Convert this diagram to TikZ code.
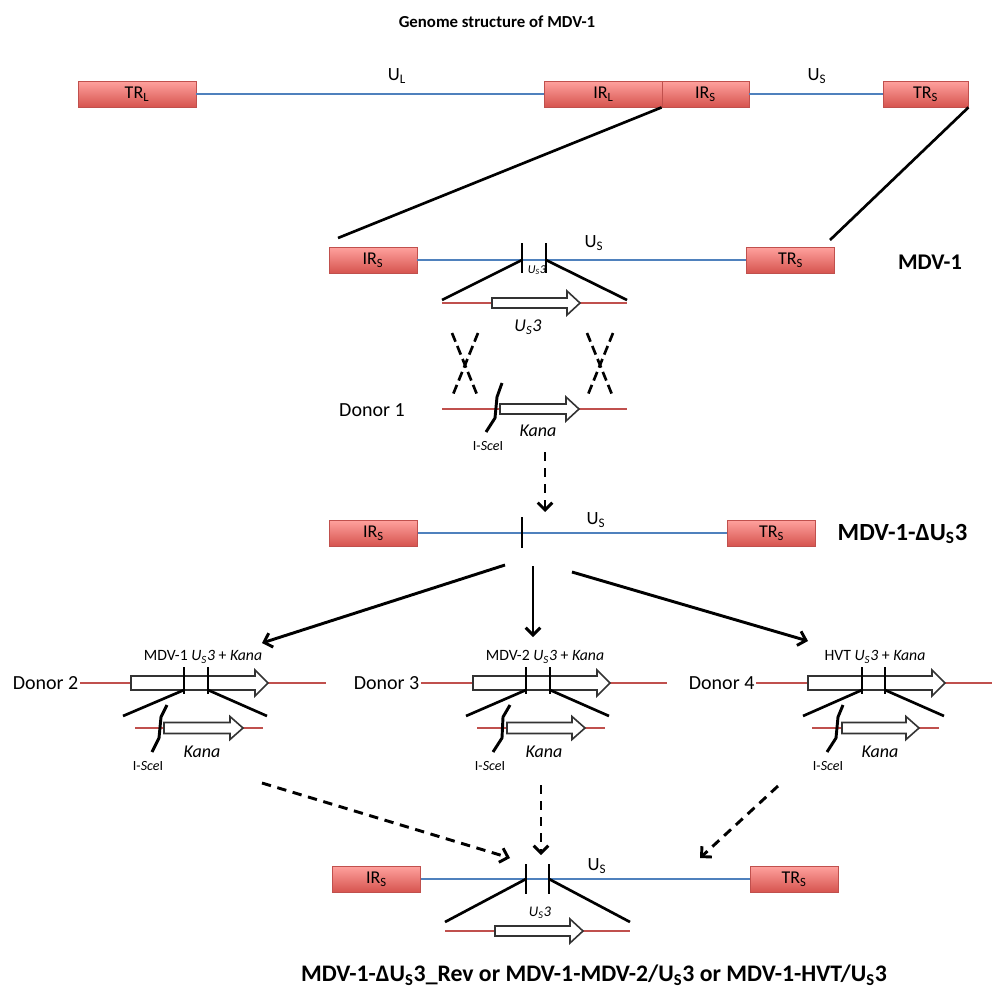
\documentclass[tikz,border=0pt]{standalone}
\usepackage{fontspec}
\setmainfont{Carlito}
\usetikzlibrary{arrows.meta}
\definecolor{boxtop}{RGB}{255,162,158}
\definecolor{boxbot}{RGB}{214,84,79}
\definecolor{boxline}{RGB}{192,80,77}
\definecolor{dnablue}{RGB}{79,129,189}
\definecolor{dnared}{RGB}{192,80,77}
% open block arrow: from x1 to tip x2 at height y, half body, half head
\newcommand{\blockarrow}[5]{\draw[fill=white,line width=1.2pt,draw=black!80]
  (#1,#3-#4) -- (#2-13,#3-#4) -- (#2-13,#3-#5) -- (#2,#3) -- (#2-13,#3+#5) -- (#2-13,#3+#4) -- (#1,#3+#4) -- cycle;}
\begin{document}
\begin{tikzpicture}[x=0.75pt,y=-0.75pt,
    box/.style={draw=boxline,line width=0.6pt,top color=boxtop,bottom color=boxbot,minimum width=66pt,minimum height=19.5pt,inner sep=0pt,font=\fontsize{13.5}{15}\selectfont},
    dna/.style={dnablue,line width=2.2pt},
    flank/.style={dnared,line width=2pt},
    cut/.style={line width=2.2pt},
    ins/.style={line width=2pt},
    cross/.style={line width=2pt,dash pattern=on 7pt off 3.5pt},
    flow/.style={line width=2.2pt,-{Straight Barb[length=5.5pt,width=11pt]}},
    dflow/.style={flow,dash pattern=on 7pt off 5pt},
    lbl/.style={font=\fontsize{14}{16}\selectfont},
    head/.style={font=\bfseries\fontsize{12.6}{15}\selectfont},
    big/.style={font=\bfseries\fontsize{16.8}{19}\selectfont},
    tiny/.style={font=\fontsize{10.5}{12}\selectfont},
    gene/.style={font=\itshape\fontsize{13.5}{16}\selectfont},
    small/.style={font=\fontsize{11.8}{13}\selectfont},
    donor/.style={font=\fontsize{15}{17}\selectfont,inner sep=1pt}]
\useasboundingbox (0,0) rectangle (992,992);

% genome
\node[head] (title) at (497,22) {Genome structure of MDV-1};
\node[box,minimum width=88.5pt] (trl) at (137,94) {TR\textsubscript{L}};
\node[box,minimum width=88pt] (irl) at (603.5,94) {IR\textsubscript{L}};
\node[box,minimum width=65.25pt] (irs) at (705.5,94) {IR\textsubscript{S}};
\node[box,minimum width=63.75pt] (trs) at (925.5,94) {TR\textsubscript{S}};
\draw[dna] (trl) -- (irl);
\draw[dna] (irs) -- (trs);
\node[lbl] (ul) at (397,76) {U\textsubscript{L}};
\node[lbl] (us) at (817,76) {U\textsubscript{S}};

% MDV-1
\node[box] (irsa) at (373,260) {IR\textsubscript{S}};
\node[box] (trsa) at (790.5,260) {TR\textsubscript{S}};
\draw[dna] (irsa) -- (trsa);
\coordinate (za) at (338,238);
\coordinate (zb) at (830,240);
\draw[ins] (irs.south west) -- (za);
\draw[ins] (trs.south east) -- (zb);
\node[lbl] (usa) at (594,243) {U\textsubscript{S}};
\node[big] (mdv) at (930,262) {MDV-1};
\draw[ins] (522,260) -- (442,300);
\draw[ins] (546,260) -- (627,300);
\draw[cut] (522,243) -- (522,273);
\draw[cut] (546,243) -- (546,273);
\node[font=\itshape\fontsize{9}{10}\selectfont] (us3s) at (537,270) {U\textsubscript{S}3};
\draw[flank] (442,303) -- (627,303);
\blockarrow{492}{580}{303}{5}{12}
\node[gene] (us3a) at (528,327) {U\textsubscript{S}3};

% crossover
\draw[cross] (452,333) -- (478,397);
\draw[cross] (478,333) -- (452,397);
\draw[cross] (587,333) -- (613,397);
\draw[cross] (613,333) -- (587,397);

% donor 1
\node[donor] (d1) at (372,410) {Donor 1};
\draw[flank] (442,409) -- (627,409);
\blockarrow{500}{579}{409}{5}{12}
\draw[cut] (502,383) -- (497,397) -- (495,418) -- (486,432);
\node[gene] (k1) at (538,431) {Kana};
\node[tiny] (s1) at (488,446) {I-\textit{Sce}I};
\draw[dflow] (545,452) -- (545,512);

% MDV-1 delta US3
\node[box] (irsb) at (373.5,533) {IR\textsubscript{S}};
\node[box] (trsb) at (771.5,533) {TR\textsubscript{S}};
\draw[dna] (irsb) -- (trsb);
\draw[cut] (522,517) -- (522,548);
\node[lbl] (usb) at (596,520) {U\textsubscript{S}};
\node[big,anchor=west,font=\bfseries\fontsize{18.5}{21}\selectfont] (del) at (833,534) {MDV-1-ΔU\textsubscript{S}3};
\draw[flow] (505,565) -- (262,643);
\draw[flow] (533,566) -- (533,637);
\draw[flow] (572,572) -- (808,641);

% donor 2
\node[donor,anchor=east] (d2) at (80,683) {Donor 2};
\node[small] (h2) at (203,657) {MDV-1 \textit{U\textsubscript{S}3} + \textit{Kana}};
\draw[flank] (d2.east) -- (326,683);
\blockarrow{131}{268}{683}{7}{13}
\draw[ins] (184,690) -- (123,716);
\draw[ins] (208,690) -- (267,716);
\draw[cut] (184,667) -- (184,694);
\draw[cut] (208,667) -- (208,694);
\draw[flank] (135,728) -- (263,728);
\blockarrow{164}{243}{728}{5.5}{11.5}
\draw[cut] (167,705) -- (161,717) -- (159,738) -- (152,752);
\node[gene] (k2) at (202,752) {Kana};
\node[tiny] (s2) at (148,766) {I-\textit{Sce}I};

% donor 3
\node[donor,anchor=east] (d3) at (421,683) {Donor 3};
\node[small] (h3) at (545,657) {MDV-2 \textit{U\textsubscript{S}3} + \textit{Kana}};
\draw[flank] (d3.east) -- (667,683);
\blockarrow{473}{610}{683}{7}{13}
\draw[ins] (526,690) -- (466,716);
\draw[ins] (550,690) -- (609,716);
\draw[cut] (526,667) -- (526,694);
\draw[cut] (550,667) -- (550,694);
\draw[flank] (477,728) -- (605,728);
\blockarrow{507}{585}{728}{5.5}{11.5}
\draw[cut] (510,705) -- (503,717) -- (502,738) -- (493,752);
\node[gene] (k3) at (544,752) {Kana};
\node[tiny] (s3) at (490,766) {I-\textit{Sce}I};

% donor 4
\node[donor,anchor=east] (d4) at (756,683) {Donor 4};
\node[small] (h4) at (875,657) {HVT \textit{U\textsubscript{S}3} + \textit{Kana}};
\draw[flank] (d4.east) -- (1000,683);
\blockarrow{808}{945}{683}{7}{13}
\draw[ins] (862,690) -- (803,716);
\draw[ins] (885,690) -- (944,716);
\draw[cut] (862,667) -- (862,694);
\draw[cut] (885,667) -- (885,694);
\draw[flank] (812,728) -- (939,728);
\blockarrow{842}{919}{728}{5.5}{11.5}
\draw[cut] (843,705) -- (838,717) -- (836,738) -- (827,752);
\node[gene] (k4) at (880,752) {Kana};
\node[tiny] (s4) at (828,766) {I-\textit{Sce}I};

% revertants
\draw[dflow] (262,783) -- (510,858);
\draw[dflow] (541,785) -- (541,855);
\draw[dflow] (778,786) -- (700,858);
\node[box] (irsc) at (376.5,879) {IR\textsubscript{S}};
\node[box] (trsc) at (794,879) {TR\textsubscript{S}};
\draw[dna] (irsc) -- (trsc);
\node[lbl] (usc) at (597,866) {U\textsubscript{S}};
\draw[ins] (526,879) -- (445,922);
\draw[ins] (549,879) -- (630,922);
\draw[cut] (526,864) -- (526,894);
\draw[cut] (549,864) -- (549,894);
\draw[flank] (445,931) -- (630,931);
\blockarrow{495}{583}{931}{5}{12}
\node[font=\itshape\fontsize{11}{13}\selectfont] (us3c) at (540,913) {U\textsubscript{S}3};
\node[big,font=\bfseries\fontsize{17.8}{20}\selectfont] (rev) at (594,975) {MDV-1-ΔU\textsubscript{S}3\_Rev or MDV-1-MDV-2/U\textsubscript{S}3 or MDV-1-HVT/U\textsubscript{S}3};
\end{tikzpicture}
\end{document}
